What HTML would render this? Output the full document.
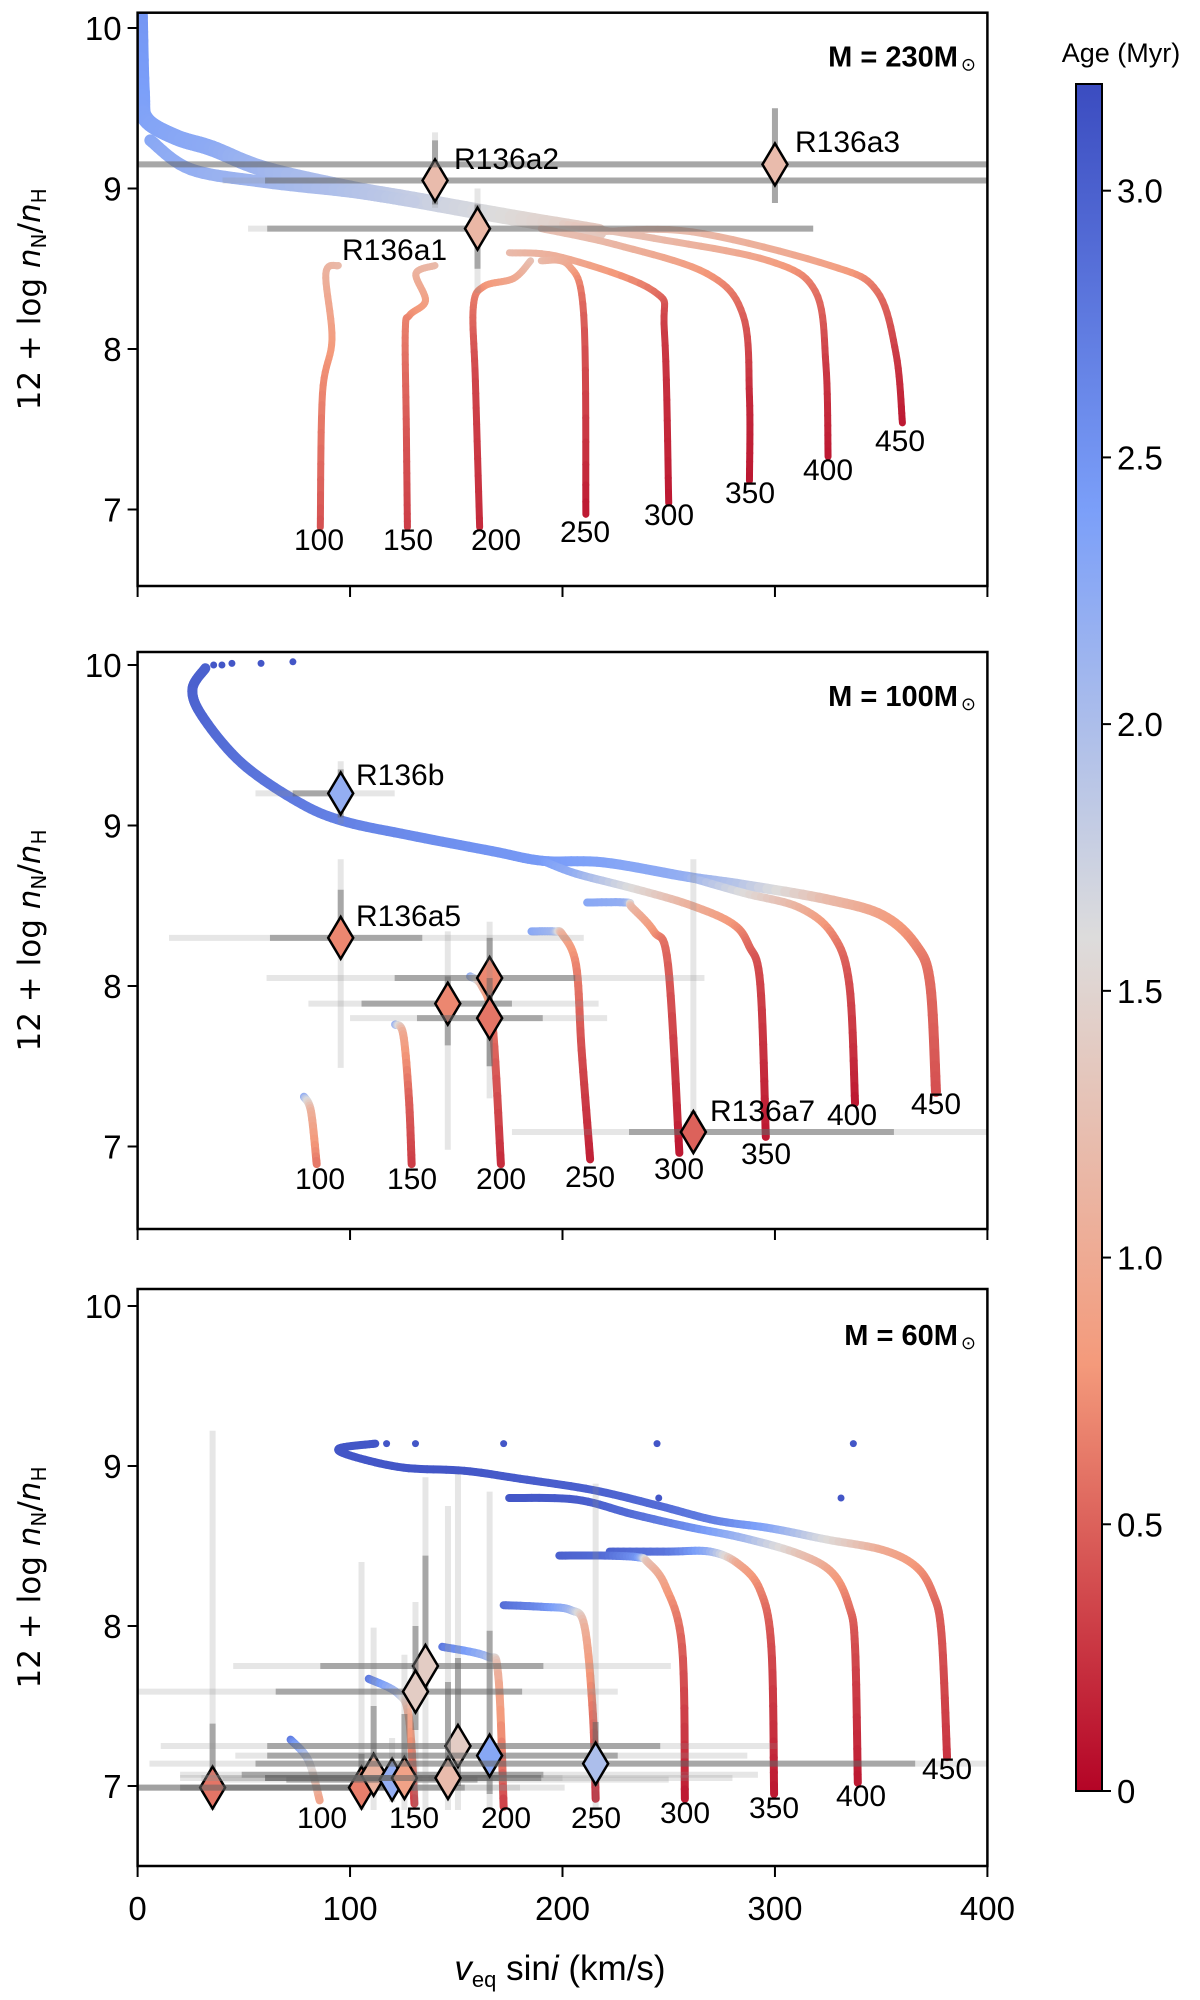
<!DOCTYPE html>
<html><head><meta charset="utf-8"><style>
html,body{margin:0;padding:0;background:#fff;width:1200px;height:2000px;overflow:hidden}
svg text{font-family:"Liberation Sans",sans-serif}
</style></head><body>
<svg id="fig" width="1200" height="2000" viewBox="0 0 1200 2000" xmlns="http://www.w3.org/2000/svg">
<defs>
<linearGradient id="cbg" x1="0" y1="1" x2="0" y2="0">
<stop offset="0" stop-color="#b40426"/><stop offset="0.25" stop-color="#f49a7b"/><stop offset="0.5" stop-color="#dddcdc"/><stop offset="0.75" stop-color="#7b9ff9"/><stop offset="1" stop-color="#3b4cc0"/>
</linearGradient>
</defs>
</svg>
<script>
// ---- data ----
const panelTitles = ["230", "100", "60"];
const xTicks = [0, 100, 200, 300, 400];
const yTicks = [7, 8, 9, 10];
const cbTicks = [0, 0.5, 1.0, 1.5, 2.0, 2.5, 3.0];
const trackLabels = ["100","150","200","250","300","350","400","450"];

// tracks: [v, logN, age]
const p1Band = [[1,10.1,2.5],[2,9.6,2.4],[4,9.43,2.35],[18,9.32,2.3],[35,9.25,2.25],[60,9.12,2.1],[100,9.0,1.95],[130,8.93,1.8],[172,8.83,1.6],[217,8.73,1.35]];
const p1Band2 = [[6,9.3,2.3],[25,9.12,2.2],[60,9.04,2.1],[100,8.98,1.95],[130,8.92,1.8]];
const p1T450 = [[217,8.73,1.35],[261,8.73,1.2],[326,8.52,0.9],[348,8.36,0.6],[357,7.97,0.3],[360,7.54,0.1]];
const p1T400 = [[200,8.78,1.4],[243,8.69,1.2],[297,8.55,0.9],[319,8.36,0.6],[324,7.9,0.3],[325,7.33,0.1]];
const p1T350 = [[190,8.75,1.3],[225,8.65,1.15],[268,8.47,0.8],[285,8.21,0.5],[288,7.7,0.2],[288,7.18,0.1]];
const p1T300 = [[175,8.6,1.2],[200,8.57,1.05],[243,8.36,0.6],[248,8.10,0.3],[250,7.04,0.1]];
const p1T250 = [[190,8.55,1.2],[203,8.52,1.0],[210,8.21,0.5],[211,6.97,0.1]];
const p1T200 = [[185,8.55,1.3],[177,8.44,1.0],[163,8.39,0.8],[158,8.26,0.6],[159,7.8,0.35],[161,6.89,0.2]];
const p1T150 = [[140,8.52,1.2],[131,8.47,1.1],[135.5,8.30,0.9],[128,8.21,0.75],[126,8.11,0.65],[126.5,7.5,0.45],[127,6.89,0.3]];
const p1T100 = [[94.5,8.52,1.2],[88.6,8.47,1.1],[91.5,8.06,0.85],[87,7.72,0.7],[86,6.89,0.4]];

const p2Main = [[31.9,9.98,3.0],[25.8,9.85,3.0],[30.5,9.68,2.95],[48.9,9.39,2.85],[75.2,9.15,2.75],[96.2,9.03,2.7],[127.7,8.94,2.6],[167,8.84,2.5],[190.7,8.78,2.45],[219.5,8.77,2.35],[258.9,8.68,2.2],[285.2,8.63,1.9],[324.5,8.54,1.2],[350.8,8.44,0.9],[366.6,8.25,0.7],[373.1,8.01,0.55],[375.8,7.34,0.4]];
const p2T400 = [[258.9,8.68,2.2],[285.2,8.58,1.6],[311.3,8.49,1.1],[327.2,8.32,0.7],[335,8.01,0.4],[337.7,7.27,0.1]];
const p2T350 = [[190.7,8.78,2.45],[206.4,8.70,2.2],[232.7,8.61,1.6],[258.9,8.51,1.1],[279.8,8.39,0.8],[287.8,8.25,0.55],[293.1,8.01,0.35],[295.7,7.06,0.1]];
const p2T300 = [[211.6,8.52,2.3],[230,8.52,2.2],[232.7,8.49,1.2],[243,8.34,0.8],[249.7,8.13,0.5],[255,6.96,0.1]];
const p2T250 = [[185.4,8.34,2.3],[196,8.34,2.1],[200,8.32,1.1],[206.4,8.13,0.7],[209,7.6,0.4],[213,6.92,0.15]];
const p2T200 = [[156.5,8.06,2.3],[162,8.0,1.2],[167,7.77,0.6],[171,6.89,0.2]];
const p2T150 = [[121.2,7.76,2.3],[125,7.70,1.0],[127.7,7.30,0.5],[129,6.89,0.3]];
const p2T100 = [[78.3,7.31,2.3],[81.6,7.22,1.1],[84.3,6.89,0.6]];
const p2DotV = [35.8,39.7,44.4,58.1,73.1];
const p2DotN = [10.0,10.0,10.01,10.01,10.02];

const p3T450 = [[111.9,9.14,3.1],[94.9,9.11,3.1],[101.4,9.06,3.1],[125,8.99,3.1],[153.9,8.97,3.1],[180.2,8.92,3.05],[214.3,8.85,3.0],[245.8,8.75,2.9],[272,8.66,2.7],[298.3,8.61,2.3],[324.5,8.54,1.6],[350.8,8.475,1.0],[366.5,8.37,0.8],[374.4,8.20,0.6],[378.4,7.95,0.45],[381,7.18,0.25]];
const p3T400 = [[174.9,8.80,3.1],[206.4,8.79,3.05],[232.7,8.70,2.9],[258.9,8.62,2.6],[285.2,8.55,2.1],[311.4,8.45,1.3],[327.2,8.33,0.9],[335,8.12,0.6],[337.7,7.87,0.4],[339,7.02,0.1]];
const p3T350 = [[222.2,8.465,3.0],[250,8.465,2.8],[269.4,8.465,2.2],[282.6,8.39,1.0],[293,8.225,0.7],[298.3,7.87,0.4],[299.6,6.95,0.1]];
const p3T300 = [[198.5,8.44,3.0],[220,8.44,2.9],[235.3,8.43,2.5],[240,8.40,1.3],[248.4,8.25,0.9],[256.3,7.87,0.5],[257.6,6.92,0.1]];
const p3T250 = [[172.3,8.13,2.9],[190,8.12,2.6],[203.8,8.10,2.1],[210.4,7.995,1.1],[214.3,7.45,0.6],[215.6,6.92,0.2]];
const p3T200 = [[143.4,7.87,2.8],[164.4,7.81,2.1],[169.7,7.70,1.1],[172.3,6.87,0.3]];
const p3T150 = [[108.8,7.67,2.8],[122.4,7.58,2.0],[127.7,7.43,1.0],[130.3,6.89,0.3]];
const p3T100 = [[72,7.29,2.8],[80.4,7.16,1.8],[85.7,6.91,0.9]];
const p3DotV = [117.2,130.8,172.3,244.5,336.9,245.3,331.1];
const p3DotN = [9.14,9.14,9.14,9.14,9.14,8.80,8.80];

// observations
const p1ObsName = ["R136a2","R136a3","R136a1"];
const p1ObsV = [140,300,160];
const p1ObsN = [9.05,9.15,8.75];
const p1ObsAge = [1.2,1.2,1.15];
const p1ObsXerr = [[40,400,60,400],[0,400,0,400],[52,318,61,318]];
const p1ObsYerr = [[8.88,9.35,8.9,9.3],[8.91,9.5,8.91,9.5],[8.35,9.0,8.5,8.9]];

const p2ObsName = ["R136b","R136a5","","","","R136a7"];
const p2ObsV = [95.6,95.6,146,165.7,165.7,261.6];
const p2ObsN = [9.20,8.30,7.89,8.05,7.80,7.09];
const p2ObsAge = [2.2,0.7,0.7,0.7,0.6,0.5];
const p2ObsXerr = [[55.5,121,73,100],[14.8,210,62.3,134],[80.4,217,105.4,176.2],[60.7,266.8,121,206],[100,221,131.5,190.7],[176.2,402,231.3,356]];
const p2ObsYerr = [[9.01,9.40,9.05,9.35],[7.49,8.79,8.25,8.6],[6.98,8.34,7.63,8.06],[7.5,8.4,7.7,8.3],[7.3,8.3,7.5,8.05],[6.98,8.79,6.98,7.22]];

const p3ObsV = [35.3,105.4,111.1,119.8,125.6,135.5,130.8,150.8,146.1,165.7,215.6];
const p3ObsN = [6.99,6.99,7.07,7.04,7.05,7.75,7.59,7.25,7.05,7.19,7.14];
const p3ObsAge = [0.6,0.65,1.1,2.2,0.9,1.4,1.4,1.4,1.2,2.3,2.0];
const p3ObsXerr = [[0,201,0,154],[0,180,20,130],[20,292,49,191],[40,250,70,160],[30,200,60,170],[45,251,86,191],[0.4,226,65,181],[10.9,301,61,246],[20,280,60,190],[46,287,61,226],[5.6,400,55.5,366]];
const p3ObsYerr = [[6.85,9.22,6.95,7.39],[6.85,8.40,6.9,7.2],[6.85,7.99,6.95,7.5],[6.9,7.3,6.95,7.15],[6.85,7.82,6.95,7.45],[6.85,8.93,7.6,8.44],[6.85,8.15,7.35,8.0],[6.85,8.95,7.0,7.8],[6.85,8.75,6.95,7.65],[6.85,8.84,6.95,7.97],[6.85,8.89,7.0,7.4]];

// ---- layout ----
const NS = "http://www.w3.org/2000/svg";
const svg = document.getElementById('fig');
const X0 = 137.6, X1 = 987.4;
const panels = [
  {top:12.7, bot:586, y10:28, per:160.5},
  {top:652, bot:1229, y10:665, per:160.5},
  {top:1289, bot:1866, y10:1306, per:160}
];
function xs(v){ return X0 + (v/400)*(X1-X0); }
function ys(p, n){ return p.y10 + (10-n)*p.per; }
function mk(tag, attrs, parent){
  const e = document.createElementNS(NS, tag);
  for (const k in attrs) e.setAttribute(k, attrs[k]);
  (parent||svg).appendChild(e); return e;
}
const stops = [[0,[59,76,192]],[0.25,[123,159,249]],[0.5,[221,220,220]],[0.75,[244,154,123]],[1,[180,4,38]]];
function col(age){
  let t = 1 - age/3.2; t = Math.max(0, Math.min(1, t));
  for (let i=0;i<stops.length-1;i++){
    const a=stops[i], b=stops[i+1];
    if (t<=b[0]){ const f=(t-a[0])/(b[0]-a[0]);
      const c=a[1].map((x,j)=>Math.round(x+(b[1][j]-x)*f)); return `rgb(${c[0]},${c[1]},${c[2]})`; }
  }
  return 'rgb(180,4,38)';
}
function cr(p0,p1,p2,p3,t){ // catmull-rom scalar
  const t2=t*t,t3=t2*t;
  return 0.5*((2*p1)+(-p0+p2)*t+(2*p0-5*p1+4*p2-p3)*t2+(-p0+3*p1-3*p2+p3)*t3);
}
function drawTrack(p, pts, w, g, name){
  const grp = mk('g', {}, g);
  
  
  const P = pts.map(q=>[xs(q[0]), ys(p,q[1]), q[2]]);
  for (let i=0;i<P.length-1;i++){
    const a=P[Math.max(0,i-1)], b=P[i], c=P[i+1], d=P[Math.min(P.length-1,i+2)];
    const n=10;
    let px=b[0], py=b[1];
    for (let k=1;k<=n;k++){
      const t=k/n;
      const nx=cr(a[0],b[0],c[0],d[0],t), ny=cr(a[1],b[1],c[1],d[1],t);
      const age=b[2]+(c[2]-b[2])*(t-0.5/n);
      mk('line', {x1:px, y1:py, x2:nx, y2:ny, stroke: col(age), 'stroke-width': w, 'stroke-linecap':'round'}, grp);
      px=nx; py=ny;
    }
  }
}
function drawObs(p, g, v, n, age, xe, ye, label, idx){
  const grp = mk('g', {}, g);
  
  
  const cx = xs(v), cy = ys(p, n);
  mk('line', {x1:xs(xe[0]), x2:xs(Math.min(xe[1],400)), y1:cy, y2:cy, stroke:'rgba(140,140,140,0.22)', 'stroke-width':6}, grp);
  mk('line', {x1:xs(xe[2]), x2:xs(Math.min(xe[3],400)), y1:cy, y2:cy, stroke:'rgba(90,90,90,0.45)', 'stroke-width':6}, grp);
  mk('line', {x1:cx, x2:cx, y1:ys(p,ye[0]), y2:ys(p,ye[1]), stroke:'rgba(140,140,140,0.22)', 'stroke-width':6}, grp);
  mk('line', {x1:cx, x2:cx, y1:ys(p,ye[2]), y2:ys(p,ye[3]), stroke:'rgba(90,90,90,0.45)', 'stroke-width':6}, grp);
  return {cx, cy, age, grp};
}
function drawDiamond(o){
  mk('path', {d:`M${o.cx} ${o.cy-21} L${o.cx+12.5} ${o.cy} L${o.cx} ${o.cy+21} L${o.cx-12.5} ${o.cy} Z`, fill:col(o.age), stroke:'#000', 'stroke-width':2.5, 'stroke-linejoin':'miter'}, o.grp);
}
function txt(x, y, s, size, opts, parent, name){
  const t = mk('text', Object.assign({x, y, 'font-size':size, fill:'#000'}, opts||{}), parent);
  t.textContent = s;
  
  
  return t;
}

const allTracks = [
  [[p1Band,16],[p1Band2,12],[p1T450,7],[p1T400,7],[p1T350,7],[p1T300,7],[p1T250,7],[p1T200,7],[p1T150,7],[p1T100,7]],
  [[p2Main,10],[p2T400,8],[p2T350,8],[p2T300,8],[p2T250,8],[p2T200,8],[p2T150,8],[p2T100,8]],
  [[p3T450,8],[p3T400,8],[p3T350,8],[p3T300,8],[p3T250,8],[p3T200,8],[p3T150,8],[p3T100,8]]
];
const labelPos = [
  [[319,539],[408,539],[496,539],[585,531],[669,514],[750,492],[828,469],[900,440]],
  [[320,1178],[412,1178],[501,1178],[590,1176],[679,1168],[766,1153],[852,1114],[936,1103]],
  [[322,1817],[414,1817],[506,1817],[596,1817],[685,1812],[774,1807],[861,1795],[947,1768]]
];

panels.forEach((p, pi) => {
  const g = mk('g', {});
  
  
  const clip = mk('clipPath', {id:'clip'+pi}, g);
  mk('rect', {x:X0, y:p.top, width:X1-X0, height:p.bot-p.top}, clip);
  const plot = mk('g', {'clip-path':`url(#clip${pi})`}, g);
  
  

  allTracks[pi].forEach((tr, ti) => drawTrack(p, tr[0], tr[1], plot, 'track-' + ti));

  if (pi===1) p2DotV.forEach((v,i)=>{ const c=mk('circle',{cx:xs(v),cy:ys(p,p2DotN[i]),r:3.5,fill:col(3.1)},plot);
      });
  if (pi===2) p3DotV.forEach((v,i)=>{ const c=mk('circle',{cx:xs(v),cy:ys(p,p3DotN[i]),r:3.5,fill:col(3.1)},plot);
      });

  let obs = [];
  if (pi===0) p1ObsV.forEach((v,i)=>obs.push(drawObs(p,plot,v,p1ObsN[i],p1ObsAge[i],p1ObsXerr[i],p1ObsYerr[i],p1ObsName[i],i)));
  if (pi===1) p2ObsV.forEach((v,i)=>obs.push(drawObs(p,plot,v,p2ObsN[i],p2ObsAge[i],p2ObsXerr[i],p2ObsYerr[i],p2ObsName[i],i)));
  if (pi===2) p3ObsV.forEach((v,i)=>obs.push(drawObs(p,plot,v,p3ObsN[i],p3ObsAge[i],p3ObsXerr[i],p3ObsYerr[i],'',i)));
  obs.forEach(drawDiamond);

  trackLabels.forEach((s,i)=>{
    txt(labelPos[pi][i][0], labelPos[pi][i][1]+11, s, 30, {'text-anchor':'middle'}, g, 'track-label-' + s);
  });

  if (pi===0){
    txt(454, 169, 'R136a2', 30, {}, g, 'star-label-r136a2');
    txt(795, 152, 'R136a3', 30, {}, g, 'star-label-r136a3');
    txt(342, 260, 'R136a1', 30, {}, g, 'star-label-r136a1');
  }
  if (pi===1){
    txt(356, 785, 'R136b', 30, {}, g, 'star-label-r136b');
    txt(356, 926, 'R136a5', 30, {}, g, 'star-label-r136a5');
    txt(710, 1121, 'R136a7', 30, {}, g, 'star-label-r136a7');
  }

  const fr = mk('rect', {x:X0, y:p.top, width:X1-X0, height:p.bot-p.top, fill:'none', stroke:'#000', 'stroke-width':2.5}, g);
   

  const t = txt(976, p.top+(pi===2?56:54), '', 29, {'text-anchor':'end','font-weight':'bold'}, g, 'panel-title');
  t.textContent = 'M = ' + panelTitles[pi] + 'M';
  const ts = document.createElementNS(NS,'tspan'); ts.setAttribute('font-size','18'); ts.setAttribute('font-weight','normal'); ts.setAttribute('dx','3'); ts.setAttribute('dy','4'); ts.textContent='\u2299'; t.appendChild(ts);

  yTicks.forEach(n=>{
    const y = ys(p,n);
    mk('line',{x1:X0-10,x2:X0,y1:y,y2:y,stroke:'#000','stroke-width':2},g);
    txt(X0-16, y+12, String(n), 33, {'text-anchor':'end'}, g, 'y-tick-label');
  });
  xTicks.forEach(v=>{
    mk('line',{x1:xs(v),x2:xs(v),y1:p.bot,y2:p.bot+11,stroke:'#000','stroke-width':2},g);
    if (pi===2) txt(xs(v), 1920, String(v), 33, {'text-anchor':'middle'}, g, 'x-tick-label');
  });
  const yl = mk('text', {x:0, y:0, 'font-size':31, 'text-anchor':'middle', transform:`translate(40 ${(p.top+p.bot)/2}) rotate(-90)`, style:'font-family:"DejaVu Sans",sans-serif'}, g);
  
  
  yl.innerHTML = '12 + log <tspan font-style="italic">n</tspan><tspan font-size="20" dy="6">N</tspan><tspan dy="-6">/</tspan><tspan font-style="italic">n</tspan><tspan font-size="20" dy="6">H</tspan>';
});

const xl = mk('text', {x:560, y:1980, 'font-size':35, 'text-anchor':'middle'});


xl.innerHTML = '<tspan font-style="italic">v</tspan><tspan font-size="22" dy="7">eq</tspan><tspan dy="-7"> sin</tspan><tspan font-style="italic">i</tspan> (km/s)';

const cb = mk('g', {});


const CB_TOP=84, CB_BOT=1791, CB_MAX=3.2;
mk('rect',{x:1076,y:CB_TOP,width:26,height:CB_BOT-CB_TOP,fill:'url(#cbg)',stroke:'#000','stroke-width':2},cb);
cbTicks.forEach(a=>{
  const y = CB_BOT - a/CB_MAX*(CB_BOT-CB_TOP);
  mk('line',{x1:1102,x2:1111,y1:y,y2:y,stroke:'#000','stroke-width':2},cb);
  txt(1117, y+12, a===0?'0':a.toFixed(1), 33, {}, cb, 'colorbar-tick-label');
});
txt(1121, 62, 'Age (Myr)', 27, {'text-anchor':'middle'}, cb, 'colorbar-title');
</script>
</body></html>
